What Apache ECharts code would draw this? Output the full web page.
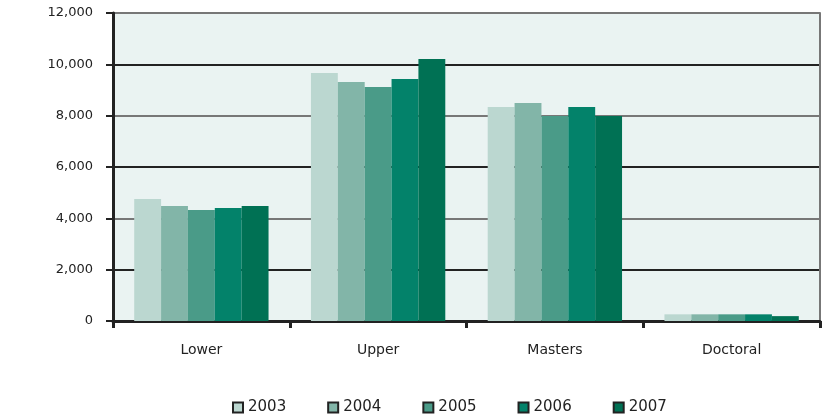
<!DOCTYPE html>
<html>
<head>
<meta charset="utf-8">
<script src="https://cdn.jsdelivr.net/npm/echarts@6/dist/echarts.min.js"></script>
<style>html,body{margin:0;padding:0;background:#fff}#c{width:825px;height:415px}</style>
</head>
<body>
<div id="c"></div>
<script>
const categories = ['Lower', 'Upper', 'Masters', 'Doctoral'];
const years = ['2003', '2004', '2005', '2006', '2007'];
const v2003 = [4750, 9660, 8340, 260];
const v2004 = [4480, 9310, 8490, 260];
const v2005 = [4320, 9120, 7990, 260];
const v2006 = [4400, 9430, 8340, 260];
const v2007 = [4480, 10210, 7990, 190];
const yTicks = [0, 2000, 4000, 6000, 8000, 10000, 12000];
const colors = ['#bbd7d0', '#82b5a8', '#4a9b88', '#03826a', '#007154'];
const values = [v2003, v2004, v2005, v2006, v2007];

const chart = echarts.init(document.getElementById('c'));
const font = '"DejaVu Sans", Verdana, sans-serif';
chart.setOption({
  animation: false,
  color: colors,
  grid: { left: 113, right: 5, top: 13, bottom: 94, show: true, backgroundColor: '#eaf3f2', borderWidth: 0 },
  legend: {
    top: 400, left: 232, padding: 0,
    itemWidth: 10, itemHeight: 10, itemGap: 41,
    icon: 'rect',
    itemStyle: { borderColor: '#222', borderWidth: 2 },
    textStyle: { fontFamily: font, fontSize: 15, color: '#222' },
    data: years
  },
  xAxis: {
    type: 'category', data: categories,
    axisLine: { lineStyle: { color: '#222', width: 3 } },
    axisTick: { show: true, length: 7, lineStyle: { color: '#222', width: 3 } },
    axisLabel: { fontFamily: font, fontSize: 14, color: '#222', margin: 22 }
  },
  yAxis: [{
    type: 'value', min: 0, max: 12000, interval: 2000,
    axisLine: { show: true, lineStyle: { color: '#222', width: 3 } },
    axisTick: { show: true, length: 7, lineStyle: { color: '#222', width: 2 } },
    axisLabel: { fontFamily: font, fontSize: 13, color: '#222', margin: 20,
      formatter: v => v.toLocaleString('en-US') },
    splitLine: { show: true, lineStyle: { color: ['#777', '#222'], width: 2 } }
  }, {
    type: 'value', min: 0, max: 12000, interval: 2000, position: 'right',
    axisLine: { show: true, lineStyle: { color: '#777', width: 2 } },
    axisTick: { show: false }, axisLabel: { show: false }, splitLine: { show: false }
  }],
  series: years.map((y, i) => ({
    name: y, type: 'bar', data: values[i],
    barGap: '0%', barCategoryGap: '24%'
  }))
});
</script>
</body>
</html>
